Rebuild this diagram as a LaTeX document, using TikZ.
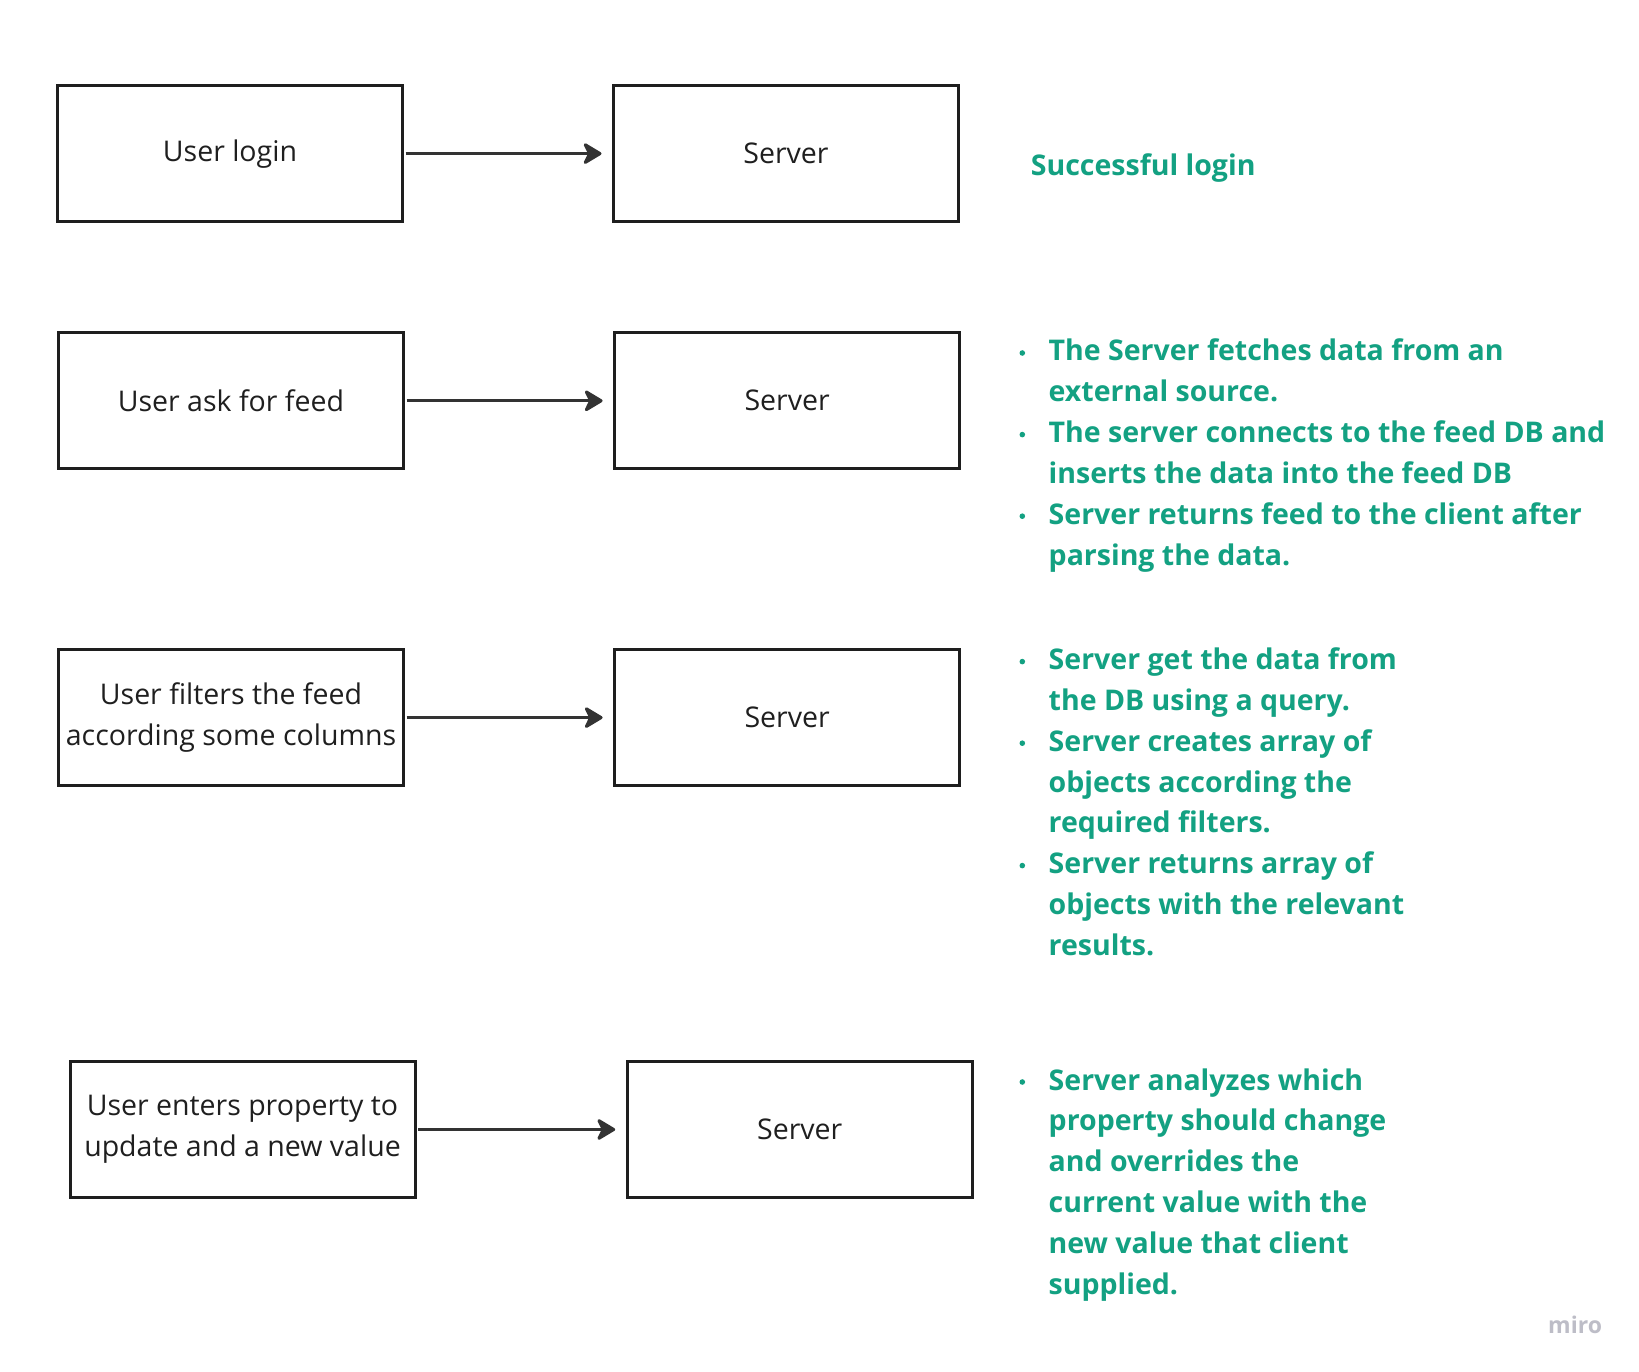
\documentclass[tikz,border=0pt]{standalone}
\usepackage{fontspec}
\setmainfont{Open Sans}
\usetikzlibrary{arrows.meta}
\definecolor{noteGreen}{HTML}{13A182}
\definecolor{boxLine}{HTML}{1E1E1E}
\definecolor{arrowCol}{HTML}{333333}
\definecolor{miroGray}{HTML}{BDBDC7}
\tikzset{
  boxnode/.style={draw=boxLine, line width=3pt, minimum width=345pt, minimum height=136pt,
    inner sep=2pt, align=center, text=black!88, font=\fontsize{28.5}{40.8}\selectfont},
  flowarrow/.style={draw=arrowCol, line width=3pt,
    -{Stealth[length=21pt,width=25pt,inset=6pt,round]}, shorten >=10.5pt, shorten <=1.5pt},
  gtext/.style={anchor=base west, inner sep=0pt, text=noteGreen,
    font=\fontsize{28.5}{40.8}\selectfont\bfseries},
  bulletdot/.style={fill=noteGreen}
}
\begin{document}
\begin{tikzpicture}[x=1pt,y=-1pt]
\fill[white] (0,0) rectangle (1639,1372);
\useasboundingbox (0,0) rectangle (1639,1372);

% boxes
\node[boxnode] (u1) at (230,153.6) {User login};
\node[boxnode] (s1) at (786,153.6) {Server};
\node[boxnode] (u2) at (231,400.8) {User ask for feed};
\node[boxnode] (s2) at (787.1,400.8) {Server};
\node[boxnode] (u3) at (231,717.6) {User filters the feed\\according some columns};
\node[boxnode] (s3) at (787.1,717.6) {Server};
\node[boxnode] (u4) at (242.5,1129.5) {User enters property to\\update and a new value};
\node[boxnode] (s4) at (799.7,1129.5) {Server};

% arrows
\draw[flowarrow] (u1) -- (s1);
\draw[flowarrow] (u2) -- (s2);
\draw[flowarrow] (u3) -- (s3);
\draw[flowarrow] (u4) -- (s4);

% notes
\node[gtext] (g1) at (1030.7,176) {Successful login};

\foreach \t [count=\i] in {The Server fetches data from an, external source., The server connects to the feed DB and, inserts the data into the feed DB, Server returns feed to the client after, parsing the data.}
  \node[gtext] (gb\i) at (1048.5,{361+(\i-1)*40.8}) {\t};
\foreach \i in {1,3,5}
  \fill[bulletdot] (1022.3,{361+(\i-1)*40.8-8}) circle (2.8);

\foreach \t [count=\i] in {Server get the data from, the DB using a query., Server creates array of, objects according the, required filters., Server returns array of, objects with the relevant, results.}
  \node[gtext] (gc\i) at (1048.5,{669.6+(\i-1)*40.8}) {\t};
\foreach \i in {1,3,6}
  \fill[bulletdot] (1022.3,{669.6+(\i-1)*40.8-8}) circle (2.8);

\foreach \t [count=\i] in {Server analyzes which, property should change, and overrides the, current value with the, new value that client, supplied.}
  \node[gtext] (gd\i) at (1048.5,{1090+(\i-1)*40.8}) {\t};
\fill[bulletdot] (1022.3,{1090-8}) circle (2.8);

% watermark
\node[anchor=base west, inner sep=0pt, text=miroGray, font=\fontsize{23}{23}\selectfont\bfseries] (miro) at (1548,1333) {miro};
\end{tikzpicture}
\end{document}
